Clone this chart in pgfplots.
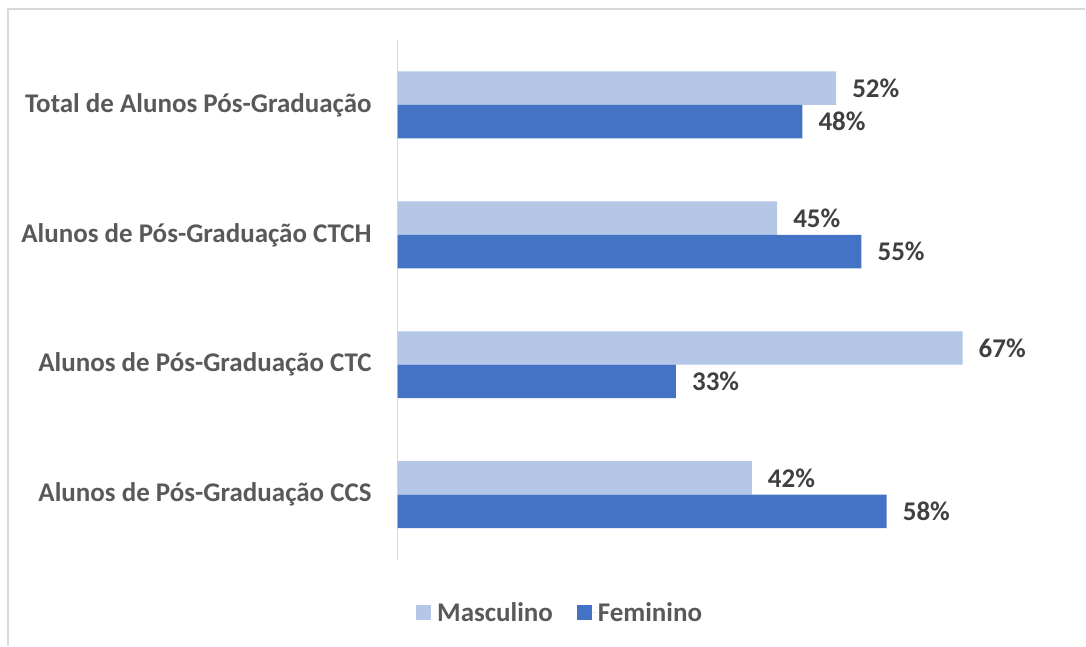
\documentclass[border=0pt]{standalone}
\usepackage{pgfplots}
\pgfplotsset{compat=1.18}
\usepackage{fontspec}
\setmainfont{Carlito}
\definecolor{masc}{HTML}{B4C7E7}
\definecolor{fem}{HTML}{4472C4}
\definecolor{lblgray}{HTML}{595959}
\definecolor{datgray}{HTML}{404040}
\definecolor{bordergray}{HTML}{D9D9D9}
\begin{document}
\begin{tikzpicture}[x=1bp,y=1bp]
\path (0,0) rectangle (1086,646);
\draw[bordergray,line width=1.5bp] (8,0) -- (8,637) -- (1086,637);
\begin{axis}[
  at={(398bp,86bp)}, anchor=south west,
  scale only axis, width=658bp, height=520bp,
  xmin=0, xmax=78, ymin=-0.5, ymax=3.5,
  xbar, bar width=33.5bp,
  axis x line=none,
  axis y line*=left,
  y axis line style={bordergray,line width=1.2bp,-},
  ytick={0,1,2,3},
  yticklabels={Alunos de Pós-Graduação CCS,Alunos de Pós-Graduação CTC,Alunos de Pós-Graduação CTCH,Total de Alunos Pós-Graduação},
  major tick length=0pt,
  yticklabel style={font=\fontsize{27bp}{32bp}\selectfont\bfseries, text=lblgray, inner sep=0pt, xshift=-26bp},
  nodes near coords={\pgfmathprintnumber[assume math mode=true]{\pgfplotspointmeta}\%},
  nodes near coords style={font=\fontsize{27bp}{32bp}\selectfont\bfseries, text=datgray, anchor=west, inner sep=0pt, xshift=16bp},
  legend style={draw=none, at={(axis description cs:0.247,-0.102)}, anchor=center, legend columns=2,
    font=\fontsize{27bp}{32bp}\selectfont\bfseries, text=lblgray,
    nodes={inner sep=2bp},
    /tikz/every even column/.append style={column sep=22bp}},
  legend image code/.code={\fill[#1] (0bp,-7.5bp) rectangle (15bp,7.5bp); \path (0bp,0bp) -- (19bp,0bp);},
  clip=false,
]
\addplot[fill=masc, draw=none, bar shift=16.75bp] coordinates {(42,0) (67,1) (45,2) (52,3)};
\addplot[fill=fem, draw=none, bar shift=-16.75bp] coordinates {(58,0) (33,1) (55,2) (48,3)};
\legend{Masculino, Feminino}
\end{axis}
\end{tikzpicture}
\end{document}
